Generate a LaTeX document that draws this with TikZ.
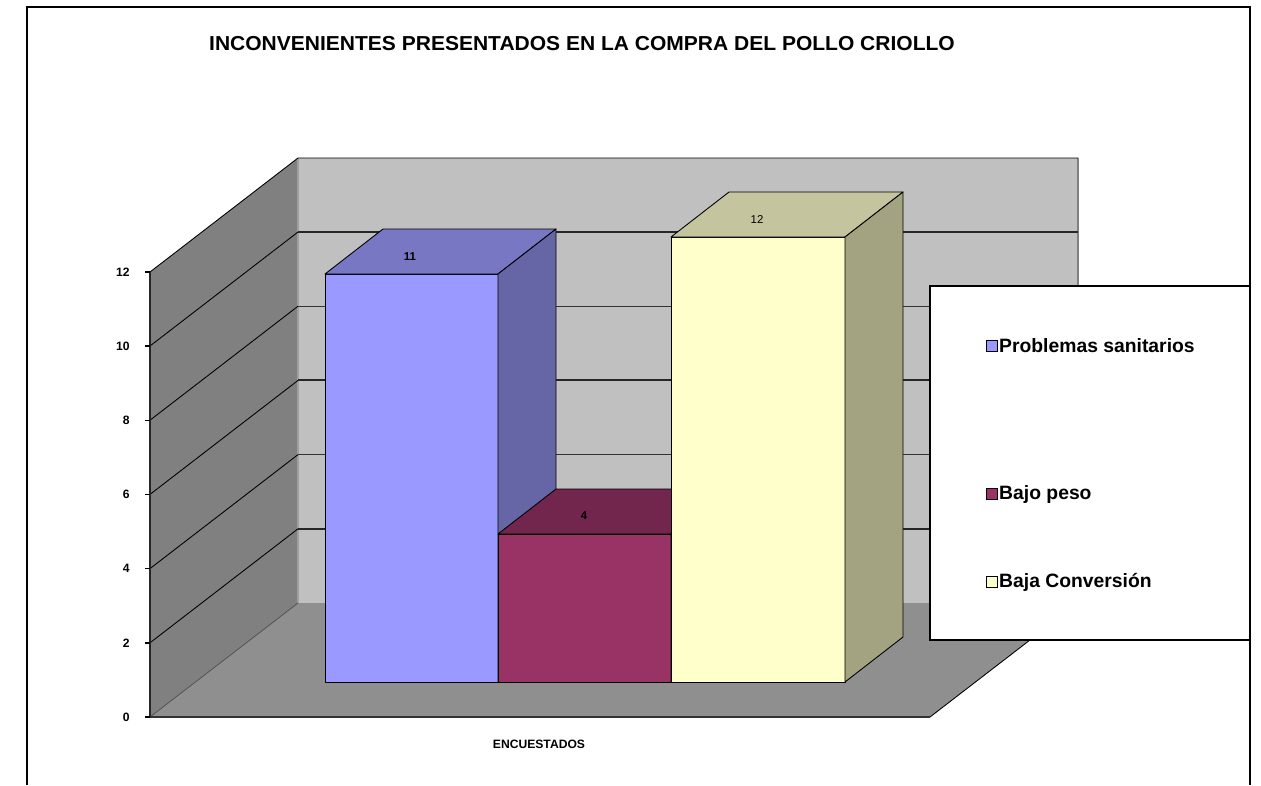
\documentclass[tikz,border=0pt]{standalone}
\usepackage{fontspec}
\setmainfont{Liberation Sans}
\usetikzlibrary{positioning}
\definecolor{wallback}{HTML}{C0C0C0}
\definecolor{wallside}{HTML}{808080}
\definecolor{floorgray}{HTML}{8F8F8F}
\definecolor{sanfront}{HTML}{9999FF}
\definecolor{santop}{HTML}{7777C4}
\definecolor{sanside}{HTML}{6666A6}
\definecolor{pesofront}{HTML}{993366}
\definecolor{pesotop}{HTML}{73264D}
\definecolor{pesoside}{HTML}{5C1F3D}
\definecolor{convfront}{HTML}{FFFFCC}
\definecolor{convtop}{HTML}{C4C49F}
\definecolor{convside}{HTML}{A3A382}
\tikzstyle{axlabel} = [font=\bfseries\fontsize{6.9}{8}\selectfont, left, inner sep=0pt]
\tikzstyle{barvalue} = [font=\fontsize{6.5}{8}\selectfont, inner sep=0pt]
\tikzstyle{face} = [draw=black, line width=0.5pt, line join=round]
\tikzstyle{legkey} = [draw, line width=0.8pt, minimum size=6pt, inner sep=0pt]
\tikzstyle{legtext} = [font=\bfseries\fontsize{11}{13}\selectfont, right, inner sep=0.5pt]

\begin{document}
\begin{tikzpicture}[x=0.02cm, y=-0.02cm]
        \useasboundingbox (0,0) rectangle (1261,785);
        % walls and floor
        \fill[wallside] (150,717) -- (150,272) -- (298,158) -- (298,603) -- cycle;
        \fill[wallback] (298,603) -- (298,158) -- (1078,158) -- (1078,603) -- cycle;
        \fill[floorgray] (150,717) -- (930,717) -- (1078,603) -- (298,603) -- cycle;
        \draw[gray!75, line width=1pt] (298,158) -- (298,603);
        \draw[wallside, line width=1pt] (1078,158) -- (1078,603);
        \draw[line width=0.5pt] (150,272) -- (298,158) -- (1078,158);
        \foreach \v in {2,4,...,10}
            \draw[line width=0.5pt] (150,{717-37.1*\v}) -- (298,{603-37.1*\v});
        \foreach \v in {2,6,10}
            \draw[black!85, line width=1.1pt] (298,{603-37.1*\v}) -- (1078,{603-37.1*\v});
        \foreach \v in {4,8}
            \draw[black!80, line width=0.7pt] (298,{603-37.1*\v}) -- (1078,{603-37.1*\v});
        \draw[black!70, line width=0.4pt] (150,717) -- (298,603);
        \draw[line width=0.5pt] (930,717) -- (1078,603);
        % bars
        \draw[face, fill=sanfront] (325,682) rectangle (498,274);
        \draw[face, fill=santop] (325,274) -- (383,229) -- (556,229) -- (498,274) -- cycle;
        \draw[face, fill=sanside] (498,274) -- (556,229) -- (556,637) -- (498,682) -- cycle;
        \draw[face, fill=pesofront] (498,682) rectangle (671,534);
        \draw[face, fill=pesotop] (498,534) -- (556,489) -- (729,489) -- (671,534) -- cycle;
        \draw[face, fill=pesoside] (671,534) -- (729,489) -- (729,637) -- (671,682) -- cycle;
        \draw[face, fill=convfront] (671,682) rectangle (845,237);
        \draw[face, fill=convtop] (671,237) -- (729,192) -- (903,192) -- (845,237) -- cycle;
        \draw[face, fill=convside] (845,237) -- (903,192) -- (903,637) -- (845,682) -- cycle;
        \node (v1) [barvalue, font=\bfseries\fontsize{6.5}{8}\selectfont] at (410,257) {11};
        \node (v2) [barvalue, font=\bfseries\fontsize{6.5}{8}\selectfont] at (584,516) {4};
        \node (v3) [barvalue] at (757,220) {12};
        % axis
        \draw[black!80, line width=1.1pt] (150,717) -- (930,717);
        \draw[black!85, line width=1pt] (150,272) -- (150,717);
        \foreach \v in {0,2,...,12}
            \draw[line width=0.8pt] (145,{717-37.1*\v}) -- (150,{717-37.1*\v});
        \node (y0) [axlabel] at (130,717) {0};
        \node (y2) [axlabel] at (130,642.8) {2};
        \node (y4) [axlabel] at (130,568.6) {4};
        \node (y6) [axlabel] at (130,494.4) {6};
        \node (y8) [axlabel] at (130,420.2) {8};
        \node (y10) [axlabel] at (130,346) {10};
        \node (y12) [axlabel] at (130,271.8) {12};
        \node (xname) [font=\bfseries\fontsize{6.9}{8}\selectfont] at (539,744) {ENCUESTADOS};
        % legend
        \draw[fill=white, line width=1.1pt] (930,286) rectangle (1250,640);
        \node (k1) [legkey, fill=sanfront] at (992,346) {};
        \node (k2) [legkey, fill=pesofront] at (992,494) {};
        \node (k3) [legkey, fill=convfront] at (992,582) {};
        \node [legtext] at (k1.east) {Problemas sanitarios};
        \node [legtext] at (k2.east) {Bajo peso};
        \node [legtext] at (k3.east) {Baja Conversión};
        % frame and title
        \draw[line width=1.2pt] (27,785) -- (27,7) -- (1250,7) -- (1250,785);
        \node (title) [font=\bfseries\fontsize{11.5}{13}\selectfont, xscale=1.04] at (582,44) {INCONVENIENTES PRESENTADOS EN LA COMPRA DEL POLLO CRIOLLO};
    \end{tikzpicture}
\end{document}
